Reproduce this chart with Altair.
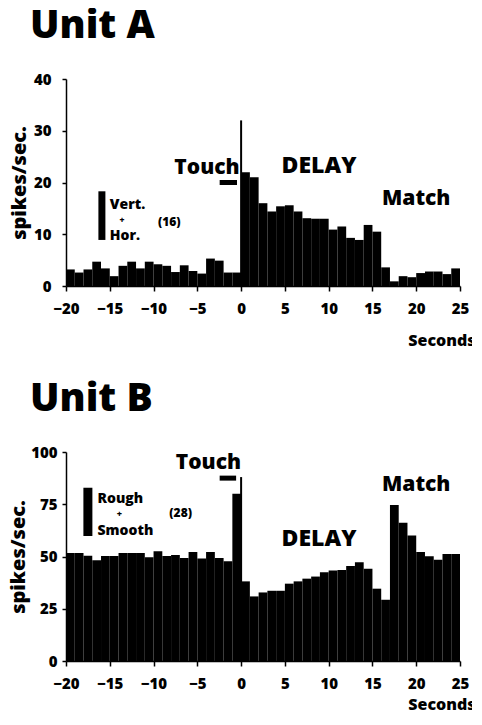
import altair as alt
import pandas as pd

# ---------------- data ----------------
bin_start = list(range(-20, 25))          # 1-s bins, -20 .. 24
x_ticks = [-20, -15, -10, -5, 0, 5, 10, 15, 20, 25]

unit_a_rate = [3.2, 2.6, 3.2, 4.7, 3.4, 1.9, 3.9, 4.7, 3.4, 4.7,
               4.2, 3.9, 2.7, 4.0, 2.9, 2.4, 5.3, 4.9, 2.6, 2.6,
               22.0, 21.0, 16.0, 14.4, 15.4, 15.6, 14.4, 13.1, 13.0, 13.0,
               10.9, 11.5, 9.3, 8.9, 11.8, 10.5, 3.6, 0.9, 1.9, 1.7,
               2.5, 2.8, 2.8, 2.3, 3.4]
unit_b_rate = [51.7, 51.7, 50.4, 48.2, 50.2, 50.2, 51.7, 51.7, 51.7, 49.6,
               52.5, 50.2, 50.7, 49.3, 52.2, 49.0, 52.2, 49.3, 47.7, 80.0,
               38.1, 30.9, 32.8, 33.6, 33.6, 37.0, 38.1, 39.4, 40.4, 42.5,
               43.3, 43.5, 45.5, 47.3, 44.1, 34.6, 29.3, 74.6, 66.2, 60.0,
               52.2, 50.1, 48.5, 51.2, 51.2]
a_y_ticks = [0, 10, 20, 30, 40]
b_y_ticks = [0, 25, 50, 75, 100]

# event markers: onset line, touch bar, legend bar  (x, x2, y, y2)
a_marks_x = [0.0, -2.45, -15.9]
a_marks_x2 = [0.0, -0.47, -15.9]
a_marks_y = [0.0, 20.0, 8.9]
a_marks_y2 = [32.0, 20.0, 18.3]
a_marks_w = [2, 5, 7]
b_marks_x = [0.0, -2.45, -17.5]
b_marks_x2 = [0.0, -0.57, -17.5]
b_marks_y = [0.0, 87.5, 59.8]
b_marks_y2 = [88.0, 87.5, 82.9]
b_marks_w = [2, 5, 9]

big_labels = ["Touch", "DELAY", "Match"]
big_sizes = [21, 23, 21]
a_big_x = [-3.9, 8.9, 20.0]
a_big_y = [21.6, 21.8, 15.6]
b_big_x = [-3.73, 8.9, 20.0]
b_big_y = [92.0, 55.0, 81.4]

a_leg_text = ["Vert.", "+", "Hor.", "(16)"]
a_leg_x = [-15.0, -13.9, -15.0, -9.5]
a_leg_y = [14.8, 12.2, 8.8, 11.6]
a_leg_size = [14, 8.5, 14, 12]
b_leg_text = ["Rough", "+", "Smooth", "(28)"]
b_leg_x = [-16.4, -14.2, -16.4, -8.2]
b_leg_y = [75.6, 69.0, 60.3, 68.9]
b_leg_size = [14, 9, 14, 12]

FONT = "Open Sans"
W = 800


def panel(title, rates, y_max, y_ticks, w, h, mx, mx2, my, my2, mw,
          bx, by, lt, lx, ly, ls, y_lab_pad, y_title_pad, title_x, title_y):
    bars = pd.DataFrame({"x": bin_start, "x2": [s + 1 for s in bin_start],
                         "y": rates, "y2": [0] * len(rates)})
    marks = pd.DataFrame({"x": mx, "x2": mx2, "y": my, "y2": my2, "w": mw})
    big = pd.DataFrame({"x": bx, "y": by, "t": big_labels, "s": big_sizes})
    leg = pd.DataFrame({"x": lx, "y": ly, "t": lt, "s": ls})

    xs = alt.Scale(domain=[-20, 25], nice=False, zero=False)
    ys = alt.Scale(domain=[0, y_max], nice=False)
    x_axis = alt.Axis(values=x_ticks, title="Seconds", titleX=title_x, titleY=title_y,
                      titleAlign="right", titleBaseline="alphabetic", titleAngle=0,
                      titleFontSize=16, labelPadding=10, tickSize=5)
    y_axis = alt.Axis(values=y_ticks, title="spikes/sec.", titleFontSize=20,
                      titlePadding=y_title_pad, labelPadding=y_lab_pad, tickSize=4)

    def xe():
        return alt.X("x:Q", scale=xs, axis=x_axis)

    def ye():
        return alt.Y("y:Q", scale=ys, axis=y_axis)

    l_bars = alt.Chart(bars).mark_rect(color="black", strokeWidth=0).encode(
        x=xe(), x2="x2:Q", y=ye(), y2="y2:Q")
    l_marks = alt.Chart(marks).mark_rule(color="black", strokeCap="butt").encode(
        x=xe(), x2="x2:Q", y=ye(), y2="y2:Q",
        strokeWidth=alt.StrokeWidth("w:Q", scale=None))
    l_big = alt.Chart(big).mark_text(font=FONT, fontWeight=W,
                                     align="center", baseline="alphabetic",
                                     color="black").encode(
        x=xe(), y=ye(), text="t:N", size=alt.Size("s:Q", scale=None))
    l_leg = alt.Chart(leg).mark_text(font=FONT, fontWeight=W, align="left",
                                     baseline="alphabetic", color="black").encode(
        x=xe(), y=ye(), text="t:N", size=alt.Size("s:Q", scale=None))
    return alt.layer(l_bars, l_marks, l_big, l_leg).properties(
        width=w, height=h,
        title=alt.TitleParams(text=title, anchor="start", frame="group", fontSize=39,
                              font=FONT, fontWeight=W, color="black",
                              offset=26, dx=-36))


a = panel("Unit A", unit_a_rate, 40, a_y_ticks, 394, 207,
          a_marks_x, a_marks_x2, a_marks_y, a_marks_y2, a_marks_w,
          a_big_x, a_big_y, a_leg_text, a_leg_x, a_leg_y, a_leg_size,
          11, 4, 409, 59)
b = panel("Unit B", unit_b_rate, 100, b_y_ticks, 394, 209,
          b_marks_x, b_marks_x2, b_marks_y, b_marks_y2, b_marks_w,
          b_big_x, b_big_y, b_leg_text, b_leg_x, b_leg_y, b_leg_size,
          5, 2, 409, 48)

chart = alt.vconcat(a, b, spacing=166, bounds="flush").properties(
    padding={"left": 0, "top": -1, "right": -3, "bottom": -2}
).configure_view(stroke=None).configure_axis(
    domainColor="black", domainWidth=1.5, tickColor="black", tickWidth=1.5,
    labelFont=FONT, labelFontWeight=W, labelFontSize=15, labelColor="black",
    labelFlush=False, titleFont=FONT, titleFontWeight=W, titleColor="black",
    grid=False
)

chart.save("out.html", embed_options={"renderer": "svg", "actions": False})
